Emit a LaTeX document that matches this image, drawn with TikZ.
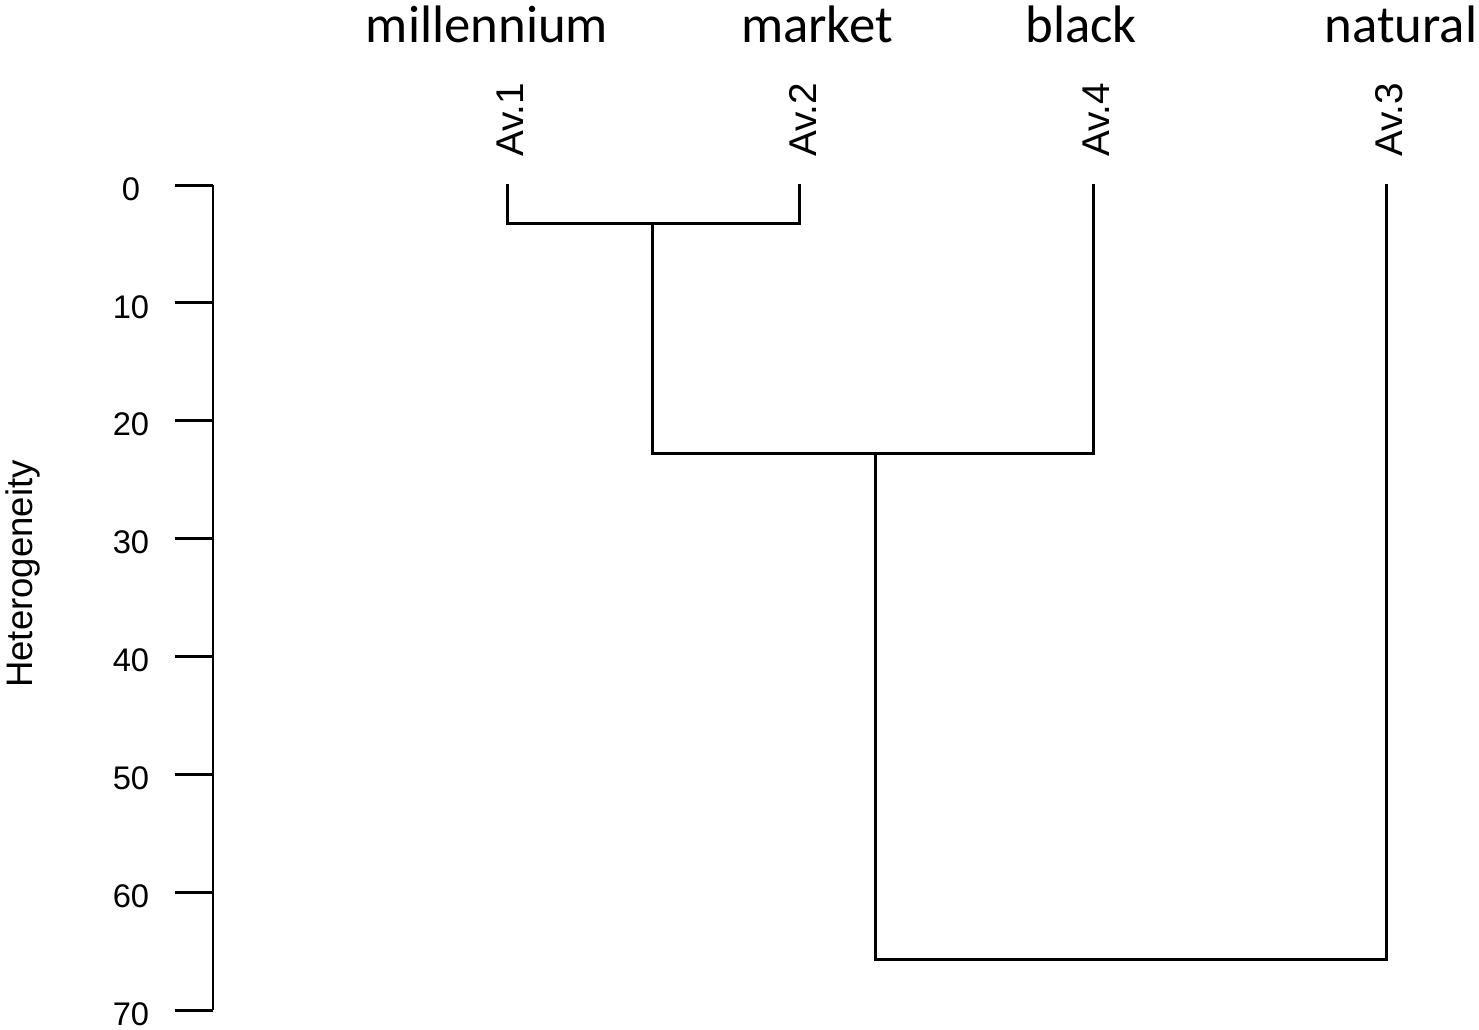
\documentclass[tikz,border=0pt]{standalone}
\usepackage{fontspec}
\setmainfont{Liberation Sans}
\newfontfamily\wordfont{Carlito}
\begin{document}
\begin{tikzpicture}[x=0.01cm,y=-0.01cm,
  tree/.style={line width=0.85pt, line cap=rect},
  axisline/.style={line width=0.85pt},
  ticklab/.style={font=\fontsize{9.3}{11}\selectfont, inner sep=0pt, anchor=center},
  leaflab/.style={font=\fontsize{11}{13}\selectfont, inner sep=0pt, rotate=90, anchor=base},
  wordlab/.style={font=\wordfont\fontsize{15}{18}\selectfont, inner sep=0pt, anchor=base}]
\useasboundingbox (0,0) rectangle (1479,1029);
% axis
\coordinate (axtop) at (213,185);
\coordinate (axbot) at (213,1010);
\draw[axisline] (axtop) -- (axbot);
\foreach \v [count=\i from 0] in {0,10,20,30,40,50,60,70} {
  \coordinate (t\i) at (213,{185+117.86*\i});
  \coordinate (tl\i) at (175,{185+117.86*\i});
  \draw[axisline] (tl\i) -- (t\i);
  \node[ticklab] (n\i) at (131,{189+117.86*\i}) {\v};
}
\node[font=\fontsize{10.5}{12}\selectfont, inner sep=0pt, rotate=90, anchor=base] (ylab) at (32,574) {\scalebox{0.99}[1]{Heterogeneity}};
% leaves
\coordinate (L1) at (507,185);
\coordinate (L2) at (799,185);
\coordinate (L4) at (1093,185);
\coordinate (L3) at (1386,185);
\node[leaflab] (a1) at (523,120) {Av.1};
\node[leaflab] (a2) at (816,120) {Av.2};
\node[leaflab] (a4) at (1109,120) {Av.4};
\node[leaflab] (a3) at (1402,120) {Av.3};
% words
\node[wordlab] (w1) at (487,42) {millennium};
\node[wordlab] (w2) at (817,42) {market};
\node[wordlab] (w3) at (1081,42) {black};
\node[wordlab] (w4) at (1401,42) {natural};
% merges
\coordinate (m1a) at (507,223);
\coordinate (m1b) at (799,223);
\coordinate (m1) at (652,223);
\coordinate (m2a) at (652,453);
\coordinate (m2b) at (1093,453);
\coordinate (m2) at (875,453);
\coordinate (m3a) at (875,959);
\coordinate (m3b) at (1386,959);
\draw[tree] (L1) -- (m1a) -- (m1b) -- (L2);
\draw[tree] (m1) -- (m2a) -- (m2b) -- (L4);
\draw[tree] (m2) -- (m3a) -- (m3b) -- (L3);
\end{tikzpicture}
\end{document}
